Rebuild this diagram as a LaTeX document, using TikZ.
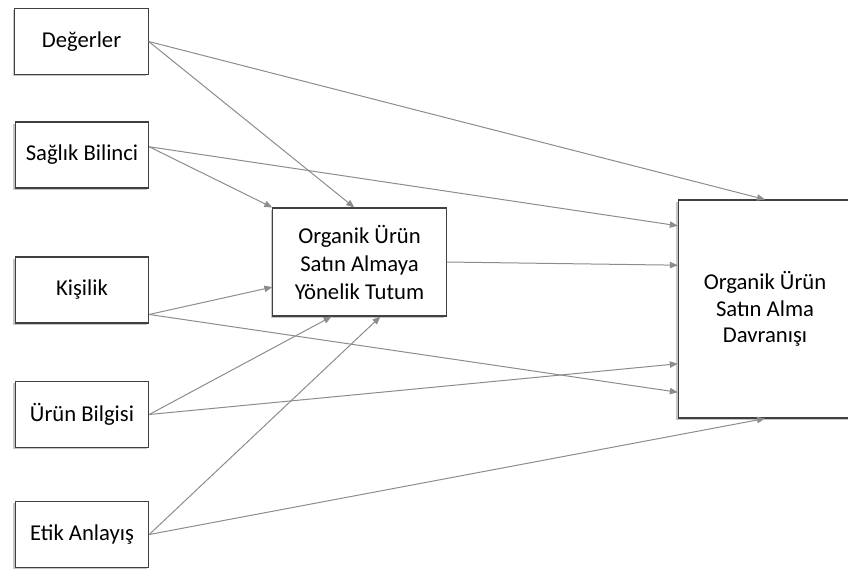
\documentclass[tikz,border=0pt]{standalone}
\usepackage{fontspec}
\setmainfont{Carlito}
\usetikzlibrary{arrows.meta,calc,shadows}
\definecolor{boxline}{HTML}{404040}
\definecolor{arrowgray}{HTML}{8C8C8C}
\tikzset{
  factor/.style={draw=boxline,fill=white,line width=0.8pt,minimum width=100pt,minimum height=49.5pt,
    font=\fontsize{17}{21}\selectfont,align=center,
    drop shadow={shadow xshift=-1.4pt,shadow yshift=-1.4pt,fill=black!45,opacity=0.5}},
  bigbox/.style={factor,minimum width=130pt},
  path/.style={-{Triangle[length=6pt,width=4.8pt]},draw=arrowgray,line width=0.75pt}
}
\begin{document}
\begin{tikzpicture}[x=0.75pt,y=-0.75pt]
\useasboundingbox (0,0) rectangle (848,572);
\clip (0,0) rectangle (848,572);
% sol sütun
\node[factor] (deger) at (81.5,41.5) {Değerler};
\node[factor] (saglik) at (82,155) {Sağlık Bilinci};
\node[factor] (kisilik) at (82,290) {Kişilik};
\node[factor] (urun) at (82,414.5) {Ürün Bilgisi};
\node[factor] (etik) at (82,534.5) {Etik Anlayış};
% aracı ve sonuç
\node[bigbox,minimum height=81pt] (tutum) at (359.5,262) {Organik Ürün\\Satın Almaya\\Yönelik Tutum};
\node[bigbox,minimum height=163.5pt,font=\fontsize{17}{20}\selectfont] (davranis) at (765,309) {Organik Ürün\\Satın Alma\\Davranışı};
% yollar
\draw[path] (deger.east) -- (davranis.north);
\draw[path] (deger.east) -- ($(tutum.north west)!0.47!(tutum.north east)$);
\draw[path] (saglik.7) -- (tutum.north west);
\draw[path] (saglik.7) -- ($(davranis.north west)!0.12!(davranis.south west)$);
\draw[path] (tutum.east) -- ($(davranis.north west)!0.3!(davranis.south west)$);
\draw[path] (kisilik.-20) -- ($(tutum.north west)!0.73!(tutum.south west)$);
\draw[path] (kisilik.-20) -- ($(davranis.north west)!0.88!(davranis.south west)$);
\draw[path] (urun.east) -- ($(tutum.south west)!0.34!(tutum.south east)$);
\draw[path] (urun.east) -- ($(davranis.north west)!0.75!(davranis.south west)$);
\draw[path] (etik.east) -- ($(tutum.south west)!0.62!(tutum.south east)$);
\draw[path] (etik.east) -- (davranis.south);
\end{tikzpicture}
\end{document}
